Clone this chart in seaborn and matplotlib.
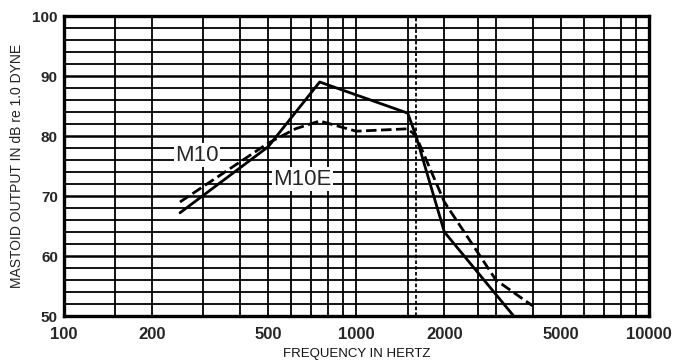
import matplotlib
matplotlib.use("Agg")
import matplotlib.pyplot as plt
from matplotlib.ticker import NullFormatter
import pandas as pd
import seaborn as sns

# ---- data ----
freq_m10 = [250, 500, 620, 750, 1000, 1500, 1600, 2000, 3000, 4000]
db_m10 = [69.0, 78.8, 81.2, 82.5, 80.8, 81.2, 80.0, 69.0, 56.0, 51.7]

freq_m10e = [250, 500, 750, 1500, 1600, 2000, 3450]
db_m10e = [67.2, 78.2, 89.0, 83.8, 80.0, 64.0, 50.0]

x_ticks = [100, 200, 500, 1000, 2000, 5000, 10000]
x_tick_labels = ["100", "200", "500", "1000", "2000", "5000", "10000"]
y_ticks = [50, 60, 70, 80, 90, 100]
y_tick_labels = ["50", "60", "70", "80", "90", "100"]

grid_freqs = [150, 200, 300, 400, 500, 600, 700, 800, 900, 1000,
              1500, 2000, 2600, 3000, 4000, 5000, 6000, 7000, 8000, 9000]
grid_freq_dotted = [1600]
grid_db = list(range(52, 100, 2))

series_names = ["M10", "M10E"]

df = pd.concat([
    pd.DataFrame({"freq": freq_m10, "db": db_m10, "model": series_names[0]}),
    pd.DataFrame({"freq": freq_m10e, "db": db_m10e, "model": series_names[1]}),
])

sns.set_style("white")
plt.rcParams["font.family"] = ["Liberation Sans", "DejaVu Sans"]

fig = plt.figure(figsize=(6.91, 3.64), dpi=100)
ax = fig.add_axes([63.5 / 691, 48 / 364, 585.5 / 691, 300 / 364])

ax.set_xscale("log")
ax.set_xlim(100, 10000)
ax.set_ylim(50, 100)

# graph-paper grid
ax.set_xticks(grid_freqs, minor=True)
ax.set_yticks(grid_db, minor=True)
ax.xaxis.set_minor_formatter(NullFormatter())
ax.yaxis.set_minor_formatter(NullFormatter())
ax.grid(which="minor", axis="x", color="black", linewidth=1.3)
ax.grid(which="minor", axis="y", color="black", linewidth=1.3)
ax.grid(which="major", axis="y", color="black", linewidth=1.8)
ax.grid(which="major", axis="x", color="black", linewidth=1.3)
for f in grid_freq_dotted:
    ax.axvline(f, color="black", linewidth=1.3, linestyle=(0, (2, 1.2)), zorder=1)

sns.lineplot(data=df, x="freq", y="db", style="model",
             dashes={"M10": (3.8, 1.6), "M10E": ""},
             color="black", linewidth=2.0, legend=False, ax=ax,
             sort=False, zorder=5)

ax.set_xticks(x_ticks)
ax.set_xticklabels(x_tick_labels, fontsize=12, fontweight="bold")
ax.set_yticks(y_ticks)
ax.set_yticklabels(y_tick_labels, fontsize=11, fontweight="bold")
ax.tick_params(axis="x", which="both", length=0, pad=8)
ax.tick_params(axis="y", which="major", length=3, width=1.5, pad=1)
ax.tick_params(axis="y", which="minor", length=0)

for s in ax.spines.values():
    s.set_color("black")
    s.set_linewidth(2.4)

ax.set_xlabel("FREQUENCY IN HERTZ", fontsize=9.5, labelpad=4, color="#111111")
ax.set_ylabel("MASTOID OUTPUT IN dB re 1.0 DYNE", fontsize=10, labelpad=6,
              color="#222222")

ax.text(286, 76.8, "M10", fontsize=16, ha="center", va="center", zorder=6,
        bbox=dict(facecolor="white", edgecolor="none", pad=1.0))
ax.text(654, 72.8, "M10E", fontsize=16, ha="center", va="center", zorder=6,
        bbox=dict(facecolor="white", edgecolor="none", pad=1.0))

fig.savefig("out.png", dpi=100, facecolor="white")
